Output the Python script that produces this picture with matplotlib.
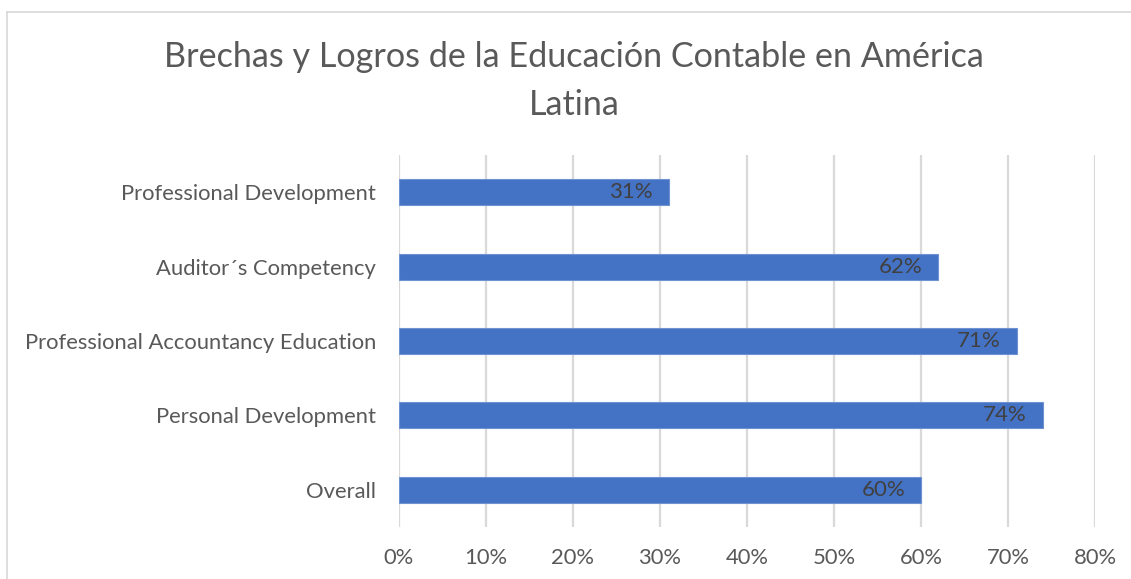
import matplotlib
matplotlib.use("Agg")
import matplotlib.pyplot as plt
from matplotlib.lines import Line2D

categories = ["Overall", "Personal Development", "Professional Accountancy Education",
              "Auditor\u00b4s Competency", "Professional Development"]
values = [0.60, 0.74, 0.71, 0.62, 0.31]
xticks = [0, 0.1, 0.2, 0.3, 0.4, 0.5, 0.6, 0.7, 0.8]
xticklabels = ["0%", "10%", "20%", "30%", "40%", "50%", "60%", "70%", "80%"]
title = "Brechas y Logros de la Educación Contable en América\nLatina"

W, H = 1131, 579
fig = plt.figure(figsize=(W / 100, H / 100), dpi=100)
plt.rcParams['font.family'] = ['Lato', 'DejaVu Sans']

# axes placement in pixels
x0, x1 = 399, 1095
y_top, y_bot = 155, 527
ax = fig.add_axes([x0 / W, 1 - y_bot / H, (x1 - x0) / W, (y_bot - y_top) / H])

bars = ax.barh(range(len(categories)), values, height=0.35, color="#4472C4",
               edgecolor="#6F92D3", linewidth=0.8, zorder=3)
ax.set_ylim(-0.5, len(categories) - 0.5)
ax.set_xlim(0, 0.8)
ax.set_xticks(xticks)
ax.set_xticklabels(xticklabels)
ax.set_yticks(range(len(categories)))
ax.set_yticklabels(categories)
ax.tick_params(axis='both', length=0, labelsize=15.8, colors="#595959")
ax.tick_params(axis='x', pad=15)
ax.tick_params(axis='y', pad=16.5)
ax.xaxis.grid(True, color="#D9D9D9", linewidth=1.6, zorder=0)
ax.set_axisbelow(True)
for s in ax.spines.values():
    s.set_visible(False)

for b, v in zip(bars, values):
    ax.annotate(f"{round(v * 100)}%", xy=(v, b.get_y() + b.get_height() / 2),
                xytext=(-11.5, 0), textcoords="offset points", ha="right", va="center",
                fontsize=16, color="#404040", zorder=4)

fig.text(574 / W, 1 - 81 / H, title, ha="center", va="center", fontsize=24.6,
         color="#595959", linespacing=1.6)

# chart border (top and left visible)
fig.add_artist(Line2D([7 / W, 1.0], [1 - 12 / H, 1 - 12 / H], transform=fig.transFigure,
                      color="#D9D9D9", linewidth=1.2))
fig.add_artist(Line2D([7 / W, 7 / W], [0, 1 - 12 / H], transform=fig.transFigure,
                      color="#D9D9D9", linewidth=1.2))

fig.savefig("out.png", dpi=100, facecolor="white")
